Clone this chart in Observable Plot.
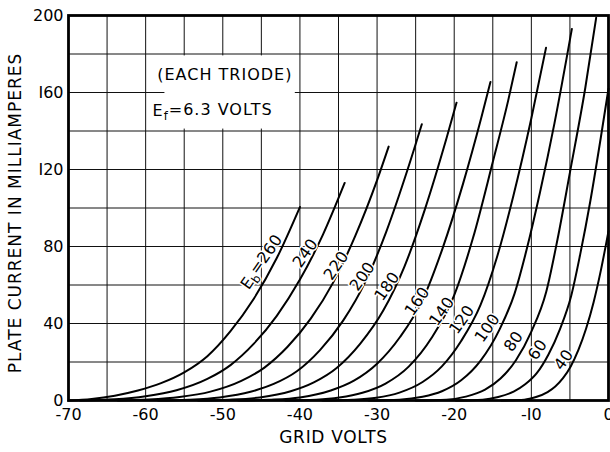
<!DOCTYPE html>
<html><head><meta charset="utf-8">
<script src="https://cdn.jsdelivr.net/npm/d3@7"></script>
<script src="https://cdn.jsdelivr.net/npm/@observablehq/plot@0.6"></script>
<style>
html,body{margin:0;padding:0;background:#fff;}
#chart svg{display:block;overflow:visible;}
</style></head><body><div id="chart"></div>
<script>
// Plate voltage of each curve
const plateVolts = [260, 240, 220, 200, 180, 160, 140, 120, 100, 80, 60, 40];

// [grid volts, plate current mA]
const curve260 = [[-70,0],[-67,0.8],[-64,2.5],[-61,5.2],[-58,9.0],[-55,14.6],[-52,23.0],[-49,36.0],[-46,52.7],[-43,74.0],[-40,100.5]];
const curve240 = [[-68.5,0],[-64,0.6],[-60,2.2],[-56,5.3],[-52,11.2],[-49,18.4],[-46,29.4],[-43,44.0],[-40,62.8],[-37,86.3],[-34.2,113]];
const curve220 = [[-63.6,0],[-59.6,0.5],[-55.6,1.8],[-51.6,4.6],[-47.6,10.2],[-44.6,17.1],[-41.6,27.9],[-38.6,42.5],[-35.66,61.5],[-32.84,85.4],[-29.96,114.9],[-28.5,131.9]];
const curve200 = [[-58.4,0],[-54.4,0.4],[-50.4,1.6],[-46.4,4.5],[-43.4,8.6],[-40.4,15.2],[-37.4,26.2],[-34.4,41.5],[-31.49,61.9],[-28.79,87.9],[-26,120.5],[-24.2,143.5]];
const curve180 = [[-53.2,0],[-49.2,0.4],[-45.2,1.6],[-41.2,4.8],[-38.2,9.4],[-35.2,17.0],[-32.2,29.4],[-29.2,46.7],[-26.44,69.7],[-23.8,99.3],[-21,136.2],[-19.7,154.7]];
const curve160 = [[-48,0],[-44,0.4],[-40,1.6],[-36,5.2],[-33,10.3],[-30,19.1],[-27,33.1],[-24.05,52.7],[-21.53,78.8],[-18.87,112.4],[-16.5,146.7],[-15.3,165.5]];
const curve140 = [[-41.9,0],[-37.9,0.4],[-34.9,1.5],[-31.9,4.0],[-28.9,8.8],[-25.9,17.6],[-22.9,32.7],[-20.01,54.6],[-17.56,84.5],[-15,123.9],[-13,155.9],[-11.9,175.7]];
const curve120 = [[-37.1,0],[-33.1,0.4],[-30.1,1.4],[-27.1,4.1],[-24.1,9.6],[-21.6,17.7],[-19.1,30.9],[-16.6,49.5],[-14.46,74.4],[-12.32,106.5],[-10,146.6],[-8.1,183.2]];
const curve100 = [[-31.1,0],[-27.1,0.4],[-24.1,1.9],[-21.6,4.8],[-19.1,10.5],[-16.6,20.6],[-14.1,37.1],[-12.19,55.4],[-10.58,78.9],[-8.87,108.3],[-7,144.1],[-4.75,193]];
const curve80  = [[-25,0],[-21,0.4],[-18.5,2.0],[-16,5.6],[-14,11.4],[-12,20.9],[-10,35.8],[-8.07,56.5],[-6.6,83.9],[-4.98,118.9],[-3,162.6],[-1.6,198.8]];
const curve60  = [[-19.8,0],[-16.3,0.4],[-14.3,1.8],[-12.3,4.6],[-10.8,8.4],[-9.3,14.2],[-7.8,23.8],[-6.3,37.0],[-4.84,54.3],[-3.65,76.3],[-2.36,103.5],[-1,136.5],[0,162]];
const curve40  = [[-13.9,0],[-10.9,0.4],[-9.4,1.8],[-7.9,4.4],[-6.9,7.3],[-5.9,11.6],[-4.9,17.7],[-3.9,26.3],[-2.9,37.4],[-1.93,51.1],[-0.97,68.0],[0,88]];
const curves = [curve260, curve240, curve220, curve200, curve180, curve160, curve140, curve120, curve100, curve80, curve60, curve40];

// Curve labels
const curveLabels = ["Eb=260", "240", "220", "200", "180", "160", "140", "120", "100", "80", "60", "40"];
const labelVolts  = [-44.9, -39.3, -35.3, -31.9, -28.7, -24.8, -21.6, -19.0, -15.7, -12.3, -9.2, -5.8];
const labelMa     = [71.7, 76.5, 70.0, 64.4, 59.2, 51.4, 46.2, 41.9, 37.6, 30.6, 26.3, 21.1];

// Axes
const xTicks = [-70, -60, -50, -40, -30, -20, -10, 0];
const xTickLabels = ["-70", "-60", "-50", "-40", "-30", "-20", "-I0", "0"];
const yTicks = [0, 40, 80, 120, 160, 200];
const yTickLabels = ["0", "40", "80", "I20", "I60", "200"];
const xGrid = [-70, -65, -60, -55, -50, -45, -40, -35, -30, -25, -20, -15, -10, -5, 0];
const yGrid = [0, 20, 40, 60, 80, 100, 120, 140, 160, 180, 200];

// Notes
const noteLines = ["(EACH TRIODE)", "Ef=6.3 VOLTS"];
const noteVolts = [-58.5, -59.1];
const noteMa = [169.3, 150.3];

const lineData = curves.flatMap((c, k) => c.map(([v, i]) => ({eb: plateVolts[k], v, i})));
const labelData = curveLabels.map((t, k) => ({t, v: labelVolts[k], i: labelMa[k]}));
const noteData = noteLines.map((t, k) => ({t, v: noteVolts[k], i: noteMa[k]}));

const font = "DejaVu Sans";
const chart = Plot.plot({
  width: 610, height: 452,
  marginLeft: 68, marginRight: 2, marginTop: 15, marginBottom: 52,
  x: {domain: [-70, 0]},
  y: {domain: [0, 200]},
  style: {fontFamily: font, fontSize: "16px", color: "black", background: "white"},
  marks: [
    Plot.ruleX(xGrid, {stroke: "#111", strokeWidth: 1}),
    Plot.ruleY(yGrid, {stroke: "#111", strokeWidth: 1}),
    Plot.rect([{x1: -57.5, x2: -40.6, y1: 141, y2: 179}], {x1: "x1", x2: "x2", y1: "y1", y2: "y2", fill: "white"}),
    Plot.line(lineData, {x: "v", y: "i", z: "eb", stroke: "black", strokeWidth: 2, curve: "monotone-x"}),
    Plot.text(labelData, {x: "v", y: "i", text: "t", rotate: -55, fontSize: 16, fill: "black", stroke: "white", strokeWidth: 3}),
    Plot.text(noteData, {x: "v", y: "i", text: "t", textAnchor: "start", fontSize: 16, fill: "black"}),
    Plot.frame({stroke: "black", strokeWidth: 2.8}),
    Plot.axisX(xTicks, {tickSize: 0, tickPadding: 8, fontSize: 16, label: null, tickFormat: d => xTickLabels[xTicks.indexOf(d)]}),
    Plot.axisY(yTicks, {tickSize: 0, tickPadding: 5, fontSize: 16, label: null, tickFormat: d => yTickLabels[yTicks.indexOf(d)]}),
    Plot.text(["PLATE CURRENT IN MILLIAMPERES"], {frameAnchor: "left", textAnchor: "middle", lineAnchor: "middle", dx: -53, dy: 5, rotate: -90, fontSize: 17, fill: "black"}),
    Plot.text(["GRID VOLTS"], {frameAnchor: "bottom", textAnchor: "middle", lineAnchor: "middle", dx: -5, dy: 37, fontSize: 17, fill: "black"})
  ]
});
document.getElementById("chart").appendChild(chart);

d3.select(chart).selectAll("text").each(function() {
  const t = this.textContent;
  const s = d3.select(this);
  if (t === "Eb=260" || t === "Ef=6.3 VOLTS") {
    const sub = t[1], rest = t.slice(2);
    s.text(null);
    s.append("tspan").text("E");
    s.append("tspan").attr("dy", "0.3em").attr("font-size", "0.72em").text(sub);
    s.append("tspan").attr("dy", "-0.3em").text(rest);
    if (sub === "f") s.attr("letter-spacing", "1");
  } else if (t === "(EACH TRIODE)") {
    s.attr("letter-spacing", "1");
  } else if (t === "PLATE CURRENT IN MILLIAMPERES") {
    s.attr("letter-spacing", "1");
  } else if (t === "GRID VOLTS") {
    s.attr("letter-spacing", "0.7");
  }
});
</script></body></html>
